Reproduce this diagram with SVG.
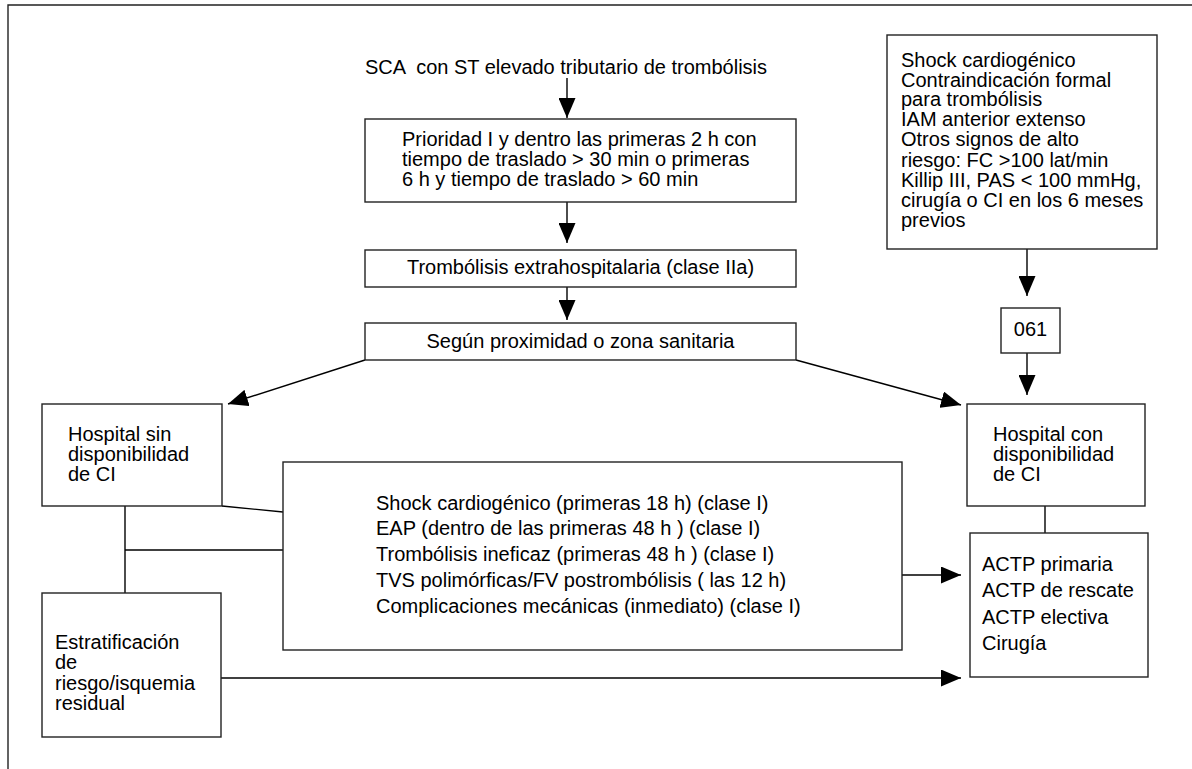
<svg xmlns="http://www.w3.org/2000/svg" width="1192" height="769" viewBox="0 0 1192 769">
<defs>
<style>
text{font-family:"Liberation Sans",Arial,Helvetica,sans-serif;font-size:20px;fill:#000}
.c{text-anchor:middle}
.box{fill:#fff;stroke:#222;stroke-width:1.4}
.ln{fill:none;stroke:#000;stroke-width:1.4}
.ar{fill:none;stroke:#000;stroke-width:1.4;marker-end:url(#ah)}
</style>
<marker id="ah" viewBox="0 0 20 17" refX="20" refY="8.5" markerWidth="20" markerHeight="17" markerUnits="userSpaceOnUse" orient="auto">
<path d="M0,0 L20,8.5 L0,17 z" fill="#000"/>
</marker>
</defs>
<rect width="1192" height="769" fill="#fff"/>
<path d="M8,769 V5 H1192" fill="none" stroke="#222" stroke-width="1.4"/>

<g id="connectors">
<line class="ar" x1="567" y1="78" x2="567" y2="118"/>
<line class="ar" x1="567" y1="202" x2="567" y2="243"/>
<line class="ar" x1="567" y1="287" x2="567" y2="320"/>
<line class="ar" x1="365" y1="360" x2="228" y2="404"/>
<line class="ar" x1="796" y1="360" x2="961" y2="405"/>
<line class="ar" x1="1027" y1="249" x2="1027" y2="296"/>
<line class="ar" x1="1027" y1="353" x2="1027" y2="395"/>
<line class="ln" x1="222" y1="506" x2="283" y2="512"/>
<line class="ln" x1="125" y1="506" x2="125" y2="593"/>
<line class="ln" x1="125" y1="550" x2="283" y2="550"/>
<line class="ln" x1="1045" y1="506" x2="1045" y2="533"/>
<line class="ar" x1="902" y1="575" x2="961" y2="575"/>
<line class="ar" x1="221" y1="678" x2="961" y2="678"/>
</g>

<g id="title">
<text x="365" y="74" xml:space="preserve">SCA  con ST elevado tributario de trombólisis</text>
</g>

<g id="prioridad">
<rect class="box" x="365" y="119" width="431" height="83"/>
<text x="402" y="146">Prioridad I y dentro las primeras 2 h con</text>
<text x="402" y="166">tiempo de traslado &gt; 30 min o primeras</text>
<text x="402" y="186">6 h y tiempo de traslado &gt; 60 min</text>
</g>

<g id="trombolisis">
<rect class="box" x="365" y="250" width="431" height="37"/>
<text class="c" x="580.5" y="274">Trombólisis extrahospitalaria (clase IIa)</text>
</g>

<g id="segun">
<rect class="box" x="365" y="323" width="431" height="37"/>
<text class="c" x="580.5" y="348">Según proximidad o zona sanitaria</text>
</g>

<g id="shock">
<rect class="box" x="887" y="35" width="270" height="214"/>
<text x="901" y="67">Shock cardiogénico</text>
<text x="901" y="87">Contraindicación formal</text>
<text x="901" y="106">para trombólisis</text>
<text x="901" y="126">IAM anterior extenso</text>
<text x="901" y="146">Otros signos de alto</text>
<text x="901" y="167">riesgo: FC &gt;100 lat/min</text>
<text x="901" y="187">Killip III, PAS &lt; 100 mmHg,</text>
<text x="901" y="207">cirugía o CI en los 6 meses</text>
<text x="901" y="227">previos</text>
</g>

<g id="n061">
<rect class="box" x="1001" y="308" width="59" height="45"/>
<text class="c" x="1030.5" y="336">061</text>
</g>

<g id="hospital-sin">
<rect class="box" x="42" y="404" width="180" height="102"/>
<text x="68" y="441">Hospital sin</text>
<text x="68" y="461">disponibilidad</text>
<text x="68" y="481">de CI</text>
</g>

<g id="hospital-con">
<rect class="box" x="967" y="404" width="178" height="102"/>
<text x="993" y="441">Hospital con</text>
<text x="993" y="461">disponibilidad</text>
<text x="993" y="481">de CI</text>
</g>

<g id="indicaciones">
<rect class="box" x="283" y="462" width="619" height="188"/>
<text x="376" y="510">Shock cardiogénico (primeras 18 h) (clase I)</text>
<text x="376" y="535">EAP (dentro de las primeras 48 h ) (clase I)</text>
<text x="376" y="561">Trombólisis ineficaz (primeras 48 h ) (clase I)</text>
<text x="376" y="587">TVS polimórficas/FV postrombólisis ( las 12 h)</text>
<text x="376" y="613">Complicaciones mecánicas (inmediato) (clase I)</text>
</g>

<g id="estratificacion">
<rect class="box" x="42" y="593" width="179" height="144"/>
<text x="55" y="649">Estratificación</text>
<text x="55" y="669">de</text>
<text x="55" y="690">riesgo/isquemia</text>
<text x="55" y="710">residual</text>
</g>

<g id="actp">
<rect class="box" x="970" y="533" width="178" height="144"/>
<text x="982" y="571">ACTP primaria</text>
<text x="982" y="597">ACTP de rescate</text>
<text x="982" y="624">ACTP electiva</text>
<text x="982" y="650">Cirugía</text>
</g>
</svg>
